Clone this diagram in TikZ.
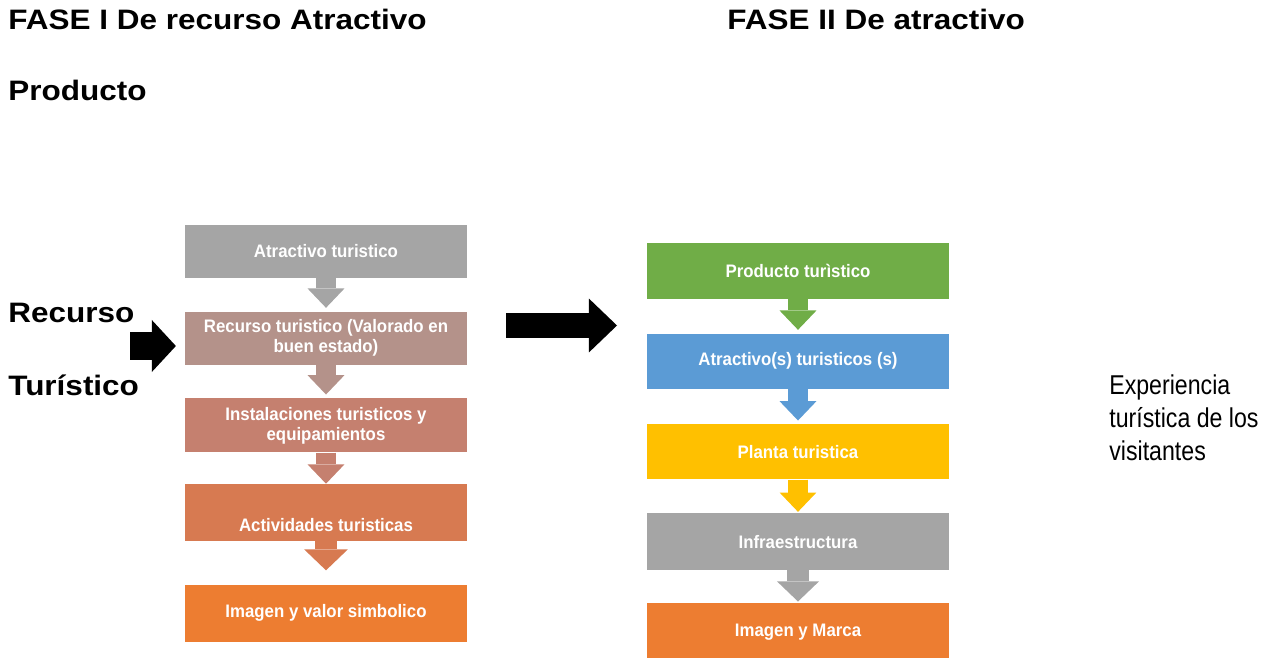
\documentclass[tikz,border=0pt]{standalone}
\usepackage{fontspec}
\setmainfont{Liberation Sans}
\newfontfamily\cabecera[FakeStretch=1.12]{Liberation Sans}
\newfontfamily\estrecha[FakeStretch=0.93]{Liberation Sans}
\newfontfamily\nota[FakeStretch=0.85]{Liberation Sans}
\usetikzlibrary{arrows.meta,positioning}
\definecolor{faseGris}{HTML}{A5A5A5}
\definecolor{faseRosa}{HTML}{B4928A}
\definecolor{faseSalmon}{HTML}{C5806F}
\definecolor{faseTeja}{HTML}{D77A51}
\definecolor{faseNaranja}{HTML}{ED7D31}
\definecolor{faseVerde}{HTML}{70AD47}
\definecolor{faseAzul}{HTML}{5B9BD5}
\definecolor{faseAmarillo}{HTML}{FFC000}
\tikzset{
  caja/.style={fill=#1, text=white, align=center, inner sep=0pt, minimum width=5.64cm, minimum height=1.06cm, font=\estrecha\bfseries\fontsize{10.3}{11.4}\selectfont},
  cajader/.style={caja=#1, minimum width=6.04cm},
  flujo/.style={draw=#1, line width=11.8pt, -{Triangle[length=11pt,width=21pt,line width=0pt]}, shorten >=2pt},
  gordo/.style={draw=black, line width=14.2pt, -{Triangle[length=16pt,width=30.7pt,line width=0pt]}},
  titulo/.style={anchor=base west, inner sep=0pt, font=\cabecera\bfseries\fontsize{16}{19}\selectfont},
}
\begin{document}
\begin{tikzpicture}[x=0.02cm, y=-0.02cm]
\useasboundingbox (0,0) rectangle (1262,658);

\node[titulo] (f1) at (8,30) {FASE I De recurso Atractivo};
\node[titulo] (f2) at (727,30) {FASE II De atractivo};
\node[titulo] (prd) at (8,101) {Producto};
\node[titulo] (rcs) at (8,323) {Recurso};
\node[titulo] (tur) at (8,396) {Turístico};

% fase I
\node[caja=faseGris] (atr) at (326,251.5) {Atractivo turistico};
\node[caja=faseRosa, below=0.66cm of atr] (rec) {Recurso turistico (Valorado en\\buen estado)};
\node[caja=faseSalmon, minimum height=1.08cm, below=0.66cm of rec] (ins) {Instalaciones turisticos y\\equipamientos};
\node[caja=faseTeja, text height=0.94cm, text depth=0.2cm, below=0.62cm of ins] (act) {Actividades turisticas};
\node[caja=faseNaranja, minimum height=1.14cm, below=0.86cm of act] (img) {Imagen y valor simbolico};

\draw[flujo=faseGris] (atr.south) -- (rec.north);
\draw[flujo=faseRosa] (rec.south) -- (ins.north);
\draw[flujo=faseSalmon, shorten >=0pt] (ins.south) -- (act.north);
\draw[flujo=faseTeja, line width=13pt, -{Triangle[length=12pt,width=25pt,line width=0pt]}, shorten >=8pt] (act.south) -- (img.north);

% fase II
\node[cajader=faseVerde, minimum height=1.12cm] (pro) at (798,271) {Producto turìstico};
\node[cajader=faseAzul, minimum height=1.1cm, below=0.68cm of pro] (atrs) {Atractivo(s) turisticos (s)};
\node[cajader=faseAmarillo, minimum height=1.1cm, below=0.7cm of atrs] (pla) {Planta turistica};
\node[cajader=faseGris, minimum height=1.14cm, below=0.66cm of pla] (inf) {Infraestructura};
\node[cajader=faseNaranja, minimum height=1.16cm, below=0.64cm of inf] (mar) {Imagen y Marca};

\draw[flujo=faseVerde] (pro.south) -- (atrs.north);
\draw[flujo=faseAzul] (atrs.south) -- (pla.north);
\draw[flujo=faseAmarillo, shorten >=0.5pt] (pla.south) -- (inf.north);
\draw[flujo=faseGris, line width=12.5pt, -{Triangle[length=11.5pt,width=24pt,line width=0pt]}, shorten >=0.5pt] (inf.south) -- (mar.north);

% flechas negras
\coordinate (r0) at (130,346);
\draw[gordo, line width=15.4pt, -{Triangle[length=13.7pt,width=29.6pt,line width=0pt]}, shorten >=5pt] (r0) -- (r0 -| rec.west);
\coordinate (m1) at (506,325.5);
\coordinate (m2) at (617,325.5);
\draw[gordo] (m1) -- (m2);

\node[anchor=base west, inner sep=0pt, align=left, font=\nota\fontsize{15.5}{18.8}\selectfont] (exp) at (1109,461) {Experiencia\\turística de los\\visitantes};
\end{tikzpicture}
\end{document}
